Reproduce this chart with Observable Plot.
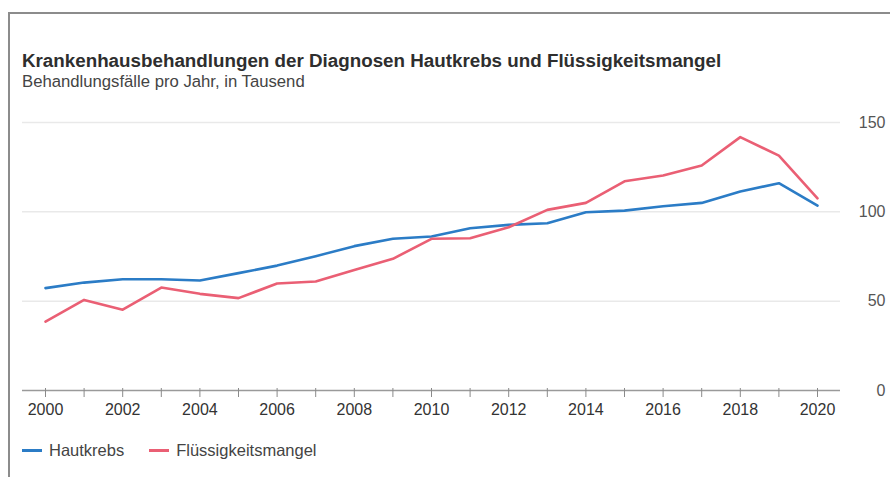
<!DOCTYPE html>
<html>
<head>
<meta charset="utf-8">
<script src="https://cdn.jsdelivr.net/npm/d3@7"></script>
<script src="https://cdn.jsdelivr.net/npm/@observablehq/plot@0.6"></script>
<style>
  html, body { margin: 0; padding: 0; background: #fff; }
  body { width: 892px; height: 477px; position: relative; overflow: hidden; font-family: "Liberation Sans", Arial, sans-serif; }
  #frame { position: absolute; left: 8px; top: 12px; width: 880px; height: 470px; border-top: 2px solid #8c8c8c; border-left: 2px solid #8c8c8c; }
  #title { position: absolute; left: 22px; top: 51px; font-size: 18.8px; line-height: 19px; font-weight: bold; color: #2e2e2e; white-space: nowrap; }
  #subtitle { position: absolute; left: 22px; top: 74px; font-size: 16.7px; line-height: 16.5px; color: #444; white-space: nowrap; }
  #chart { position: absolute; left: 0; top: 100px; }
  #legend { position: absolute; left: 22px; top: 441px; font-size: 16.5px; line-height: 18px; color: #444; display: flex; align-items: center; white-space: nowrap; }
  .sw { display: inline-block; width: 20px; height: 3px; margin-right: 7px; }
  .item { display: flex; align-items: center; margin-right: 25px; }
</style>
</head>
<body>
<div id="frame"></div>
<div id="title">Krankenhausbehandlungen der Diagnosen Hautkrebs und Flüssigkeitsmangel</div>
<div id="subtitle">Behandlungsfälle pro Jahr, in Tausend</div>
<div id="chart"></div>
<div id="legend"></div>
<script>
const years = [2000,2001,2002,2003,2004,2005,2006,2007,2008,2009,2010,2011,2012,2013,2014,2015,2016,2017,2018,2019,2020];
const hautkrebs = [57.3,60.4,62.3,62.3,61.6,65.7,69.9,75.2,80.8,84.9,86.2,90.8,92.7,93.6,99.8,100.7,103.1,105.0,111.4,116.0,103.5];
const fluessigkeitsmangel = [38.6,50.7,45.2,57.6,54.1,51.7,59.9,61.0,67.5,73.7,84.9,85.2,91.4,101.1,105.0,117.1,120.3,125.9,141.8,131.5,107.6];
const seriesNames = ["Hautkrebs", "Flüssigkeitsmangel"];
const seriesColors = ["#2b7cc6", "#ea5f74"];
const yTicks = [0, 50, 100, 150];
const gridTicks = [50, 100, 150];

const rows = [];
years.forEach((yr, i) => {
  rows.push({year: yr, value: hautkrebs[i], series: seriesNames[0]});
  rows.push({year: yr, value: fluessigkeitsmangel[i], series: seriesNames[1]});
});

const chart = Plot.plot({
  width: 892,
  height: 330,
  marginTop: 22,
  marginBottom: 40,
  marginLeft: 22,
  marginRight: 52,
  style: {fontFamily: '"Liberation Sans", Arial, sans-serif', background: "transparent"},
  x: {domain: [2000, 2020], range: [45, 817]},
  y: {domain: [0, 150]},
  color: {domain: seriesNames, range: seriesColors},
  marks: [
    Plot.ruleY(gridTicks, {stroke: "#e9e9e9", strokeWidth: 1.5}),
    Plot.ruleY([0], {stroke: "#9a9a9a", strokeWidth: 1.5}),
    Plot.axisY({anchor: "right", ticks: yTicks, tickSize: 0, tickPadding: 0, textAnchor: "end", dx: 45, fontSize: 16, fill: "#555", label: null}),
    Plot.axisX({ticks: years, tickSize: 9, dy: -2, tickPadding: 6, tickFormat: d => (d % 2 === 0 ? String(d) : ""), stroke: "#8a8a8a", fill: "#333", fontSize: 16, label: null}),
    Plot.lineY(rows, {x: "year", y: "value", z: "series", stroke: "series", strokeWidth: 2.6})
  ]
});
document.getElementById("chart").appendChild(chart);

const legend = document.getElementById("legend");
seriesNames.forEach((name, i) => {
  const item = document.createElement("span");
  item.className = "item";
  const sw = document.createElement("span");
  sw.className = "sw";
  sw.style.background = seriesColors[i];
  item.appendChild(sw);
  item.appendChild(document.createTextNode(name));
  legend.appendChild(item);
});
</script>
</body>
</html>
